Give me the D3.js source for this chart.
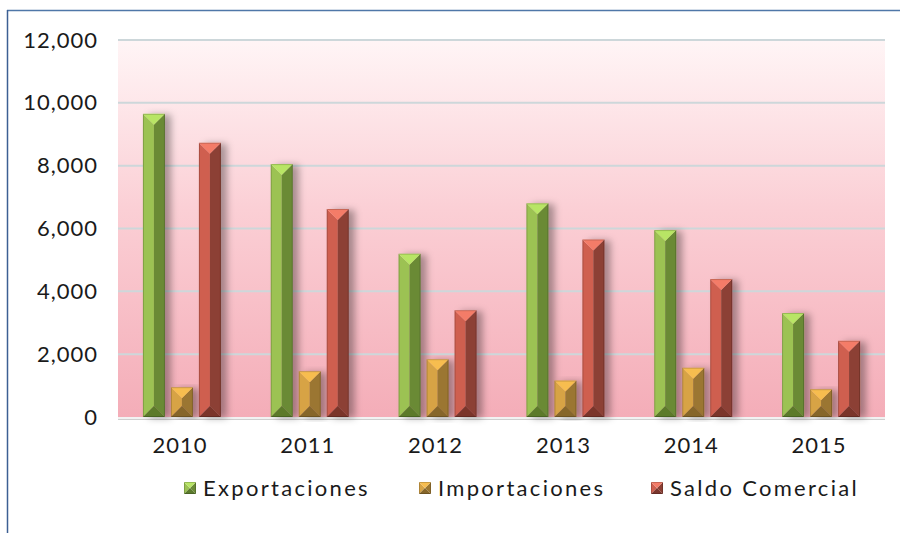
<!DOCTYPE html>
<meta charset="utf-8">
<script src="https://d3js.org/d3.v7.min.js"></script>
<html>
<head>
  <title>Exportaciones e importaciones</title>
  <style>
    body { margin: 0; background: #fff; }
    text { font-family: Lato, "Open Sans", sans-serif; fill: #1a1a1a; }
  </style>
</head>
<body>
  <div id="my_dataviz"></div>
</body>
</html>

<script>
  // data
  var years = ["2010", "2011", "2012", "2013", "2014", "2015"];
  var seriesNames = ["Exportaciones", "Importaciones", "Saldo Comercial"];
  var exportaciones = [9650, 8050, 5200, 6800, 5950, 3310];
  var importaciones = [950, 1460, 1840, 1160, 1570, 885];
  var saldo = [8730, 6620, 3400, 5650, 4390, 2425];
  var yTicks = [0, 2000, 4000, 6000, 8000, 10000, 12000];

  // colours for each series: light face, dark face, top cap, bottom cap
  var shades = {
    "Exportaciones":   {left: "#9cc253", right: "#6a8a36", top: "#b8e565", bottom: "#5b7a2c"},
    "Importaciones":   {left: "#d7a344", right: "#9b7630", top: "#f7bd4f", bottom: "#86662a"},
    "Saldo Comercial": {left: "#cf5f4f", right: "#8c3f34", top: "#f47c68", bottom: "#7a352c"}
  };

  var W = 900, H = 533;
  var plot = {left: 118, right: 885, top: 40, bottom: 417};

  var svg = d3.select("#my_dataviz")
    .append("svg")
      .attr("width", W)
      .attr("height", H);

  var defs = svg.append("defs");
  var grad = defs.append("linearGradient")
    .attr("id", "bg").attr("x1", 0).attr("y1", 0).attr("x2", 0).attr("y2", 1);
  grad.append("stop").attr("offset", "0%").attr("stop-color", "#fff5f6");
  grad.append("stop").attr("offset", "45%").attr("stop-color", "#fbcfd5");
  grad.append("stop").attr("offset", "100%").attr("stop-color", "#f4adb8");

  var shadow = defs.append("filter").attr("id", "shadow")
    .attr("x", "-30%").attr("y", "-10%").attr("width", "200%").attr("height", "120%");
  shadow.append("feDropShadow")
    .attr("dx", 6).attr("dy", 1).attr("stdDeviation", 3.5)
    .attr("flood-color", "#000").attr("flood-opacity", 0.33);

  // outer frame (only top and left edges visible)
  svg.append("line").attr("x1", 7).attr("x2", W).attr("y1", 10.5).attr("y2", 10.5)
    .attr("stroke", "#4f77a8").attr("stroke-width", 1.5);
  svg.append("line").attr("x1", 7.5).attr("x2", 7.5).attr("y1", 10).attr("y2", H)
    .attr("stroke", "#3c5f93").attr("stroke-width", 1.5);

  // scales
  var y = d3.scaleLinear().domain([0, 12000]).range([plot.bottom, plot.top]);
  var x0 = d3.scaleBand().domain(years).range([plot.left, plot.right]);
  var x1 = d3.scaleBand().domain(seriesNames).range([-39, 39]).paddingInner(0.214);

  // plot background
  svg.append("rect")
    .attr("x", plot.left).attr("y", plot.top)
    .attr("width", plot.right - plot.left).attr("height", plot.bottom - plot.top)
    .attr("fill", "url(#bg)");

  // gridlines
  svg.append("g").selectAll("line")
    .data(yTicks.filter(function(d) { return d > 0; }))
    .enter().append("line")
      .attr("x1", plot.left).attr("x2", plot.right)
      .attr("y1", function(d) { return y(d); })
      .attr("y2", function(d) { return y(d); })
      .attr("stroke", "#cdd7da").attr("stroke-width", 2);

  // baseline
  svg.append("line")
    .attr("x1", plot.left).attr("x2", plot.right)
    .attr("y1", y(0) + 1).attr("y2", y(0) + 1)
    .attr("stroke", "#f2f2f2").attr("stroke-width", 2);
  svg.append("line")
    .attr("x1", plot.left).attr("x2", plot.right)
    .attr("y1", y(0) + 2.5).attr("y2", y(0) + 2.5)
    .attr("stroke", "#cfcfcf").attr("stroke-width", 1);

  // y axis labels
  var yAxis = svg.append("g")
    .attr("transform", "translate(98,0)")
    .call(d3.axisLeft(y).tickValues(yTicks).tickSize(0).tickPadding(0)
      .tickFormat(d3.format(",")));
  yAxis.select(".domain").remove();
  yAxis.selectAll("text").style("font-size", "22px").attr("fill", "#1a1a1a")
    .style("font-family", "Lato, sans-serif").style("letter-spacing", "1px");

  // x axis labels
  var xAxis = svg.append("g")
    .attr("transform", "translate(-2," + (y(0) + 20) + ")")
    .call(d3.axisBottom(x0).tickSize(0).tickPadding(0));
  xAxis.select(".domain").remove();
  xAxis.selectAll("text").style("font-size", "22px").attr("fill", "#1a1a1a")
    .style("font-family", "Lato, sans-serif").style("letter-spacing", "1px");

  // beveled bar shape
  function bevel(g, x, yTop, w, h, c) {
    var d = Math.min(w / 2, h / 2);
    var m = x + w / 2;
    var yb = yTop + h;
    g.append("polygon").attr("fill", c.left)
      .attr("points", [[x, yTop], [m, yTop + d], [m, yb - d], [x, yb]].join(" "));
    g.append("polygon").attr("fill", c.right)
      .attr("points", [[x + w, yTop], [m, yTop + d], [m, yb - d], [x + w, yb]].join(" "));
    g.append("polygon").attr("fill", c.top)
      .attr("points", [[x, yTop], [x + w, yTop], [m, yTop + d]].join(" "));
    g.append("polygon").attr("fill", c.bottom)
      .attr("points", [[x, yb], [x + w, yb], [m, yb - d]].join(" "));
    g.append("rect").attr("x", x + 0.5).attr("y", yTop + 0.5)
      .attr("width", w - 1).attr("height", h - 1)
      .attr("fill", "none").attr("stroke", "rgba(0,0,0,0.18)").attr("stroke-width", 1);
  }

  var data = years.map(function(yr, i) {
    return {year: yr, values: [
      {name: "Exportaciones", value: exportaciones[i]},
      {name: "Importaciones", value: importaciones[i]},
      {name: "Saldo Comercial", value: saldo[i]}
    ]};
  });

  var groups = svg.append("g").selectAll("g")
    .data(data).enter().append("g")
      .attr("transform", function(d) { return "translate(" + (x0(d.year) + x0.bandwidth() / 2) + ",0)"; });

  groups.each(function(d) {
    var grp = d3.select(this);
    d.values.forEach(function(v) {
      var bar = grp.append("g").attr("filter", "url(#shadow)");
      bevel(bar, x1(v.name), y(v.value), x1.bandwidth(), y(0) - y(v.value), shades[v.name]);
    });
  });

  // legend
  var legendX = [184, 419, 651];
  var legend = svg.append("g").selectAll("g")
    .data(seriesNames).enter().append("g")
      .attr("transform", function(d, i) { return "translate(" + legendX[i] + ",482)"; });
  legend.each(function(d) {
    bevel(d3.select(this), 0, 0, 12, 12, shades[d]);
  });
  legend.append("text")
    .attr("x", 19).attr("y", 14)
    .style("font-size", "22px")
    .style("letter-spacing", "2.3px")
    .text(function(d) { return d; });
</script>
